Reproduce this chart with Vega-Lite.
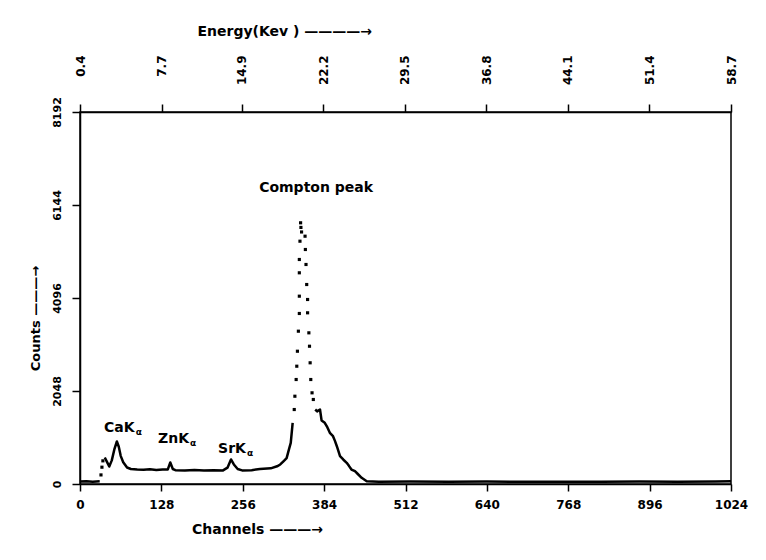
{
  "$schema": "https://vega.github.io/schema/vega-lite/v6.json",
  "width": 651,
  "height": 372,
  "autosize": {"type": "none"},
  "padding": {"left": 80, "top": 112, "right": 35, "bottom": 76},
  "background": "white",
  "config": {
    "view": {"stroke": "black", "strokeWidth": 1.5},
    "font": "DejaVu Sans",
    "axis": {
      "grid": false,
      "domainColor": "black",
      "domainWidth": 1.5,
      "tickColor": "black",
      "tickWidth": 1.5,
      "labelColor": "black",
      "titleColor": "black",
      "labelFont": "DejaVu Sans",
      "titleFont": "DejaVu Sans",
      "labelFontWeight": "bold",
      "titleFontWeight": "bold",
      "labelOverlap": false,
      "labelFlush": false,
      "labelBound": false
    }
  },
  "datasets": {
    "energy_ticks": [
      {"energy": 0.4}, {"energy": 7.7}, {"energy": 14.9}, {"energy": 22.2}, {"energy": 29.5},
      {"energy": 36.8}, {"energy": 44.1}, {"energy": 51.4}, {"energy": 58.7}
    ],
    "spectrum": [
      {"channel": 0, "counts": 55, "part": "base"},
      {"channel": 10, "counts": 60, "part": "base"},
      {"channel": 20, "counts": 50, "part": "base"},
      {"channel": 31, "counts": 58, "part": "base"},
      {"channel": 33, "counts": 200, "part": "dots"},
      {"channel": 34.5, "counts": 370, "part": "dots"},
      {"channel": 36, "counts": 510, "part": "dots"},
      {"channel": 39, "counts": 583, "part": "left"},
      {"channel": 43, "counts": 470, "part": "left"},
      {"channel": 46, "counts": 385, "part": "left"},
      {"channel": 50, "counts": 520, "part": "left"},
      {"channel": 54, "counts": 760, "part": "left"},
      {"channel": 58, "counts": 936, "part": "left"},
      {"channel": 61, "counts": 820, "part": "left"},
      {"channel": 64, "counts": 620, "part": "left"},
      {"channel": 68, "counts": 480, "part": "left"},
      {"channel": 74, "counts": 363, "part": "left"},
      {"channel": 80, "counts": 330, "part": "left"},
      {"channel": 90, "counts": 320, "part": "left"},
      {"channel": 100, "counts": 315, "part": "left"},
      {"channel": 110, "counts": 325, "part": "left"},
      {"channel": 120, "counts": 310, "part": "left"},
      {"channel": 130, "counts": 320, "part": "left"},
      {"channel": 138, "counts": 318, "part": "left"},
      {"channel": 142, "counts": 473, "part": "left"},
      {"channel": 146, "counts": 330, "part": "left"},
      {"channel": 150, "counts": 305, "part": "left"},
      {"channel": 165, "counts": 300, "part": "left"},
      {"channel": 180, "counts": 310, "part": "left"},
      {"channel": 195, "counts": 300, "part": "left"},
      {"channel": 210, "counts": 305, "part": "left"},
      {"channel": 225, "counts": 300, "part": "left"},
      {"channel": 232, "counts": 360, "part": "left"},
      {"channel": 237.5, "counts": 540, "part": "left"},
      {"channel": 242, "counts": 430, "part": "left"},
      {"channel": 248, "counts": 330, "part": "left"},
      {"channel": 255, "counts": 300, "part": "left"},
      {"channel": 270, "counts": 305, "part": "left"},
      {"channel": 283, "counts": 330, "part": "left"},
      {"channel": 300, "counts": 345, "part": "left"},
      {"channel": 310, "counts": 390, "part": "left"},
      {"channel": 315, "counts": 430, "part": "left"},
      {"channel": 320, "counts": 500, "part": "left"},
      {"channel": 325, "counts": 570, "part": "left"},
      {"channel": 329, "counts": 780, "part": "left"},
      {"channel": 331.5, "counts": 907, "part": "left"},
      {"channel": 334.5, "counts": 1348, "part": "left"},
      {"channel": 337, "counts": 1640, "part": "dots"},
      {"channel": 338, "counts": 1933, "part": "dots"},
      {"channel": 340, "counts": 2301, "part": "dots"},
      {"channel": 341, "counts": 2594, "part": "dots"},
      {"channel": 342, "counts": 2924, "part": "dots"},
      {"channel": 343.5, "counts": 3365, "part": "dots"},
      {"channel": 345, "counts": 3755, "part": "dots"},
      {"channel": 345, "counts": 4136, "part": "dots"},
      {"channel": 345, "counts": 4651, "part": "dots"},
      {"channel": 345, "counts": 4944, "part": "dots"},
      {"channel": 346, "counts": 5347, "part": "dots"},
      {"channel": 347, "counts": 5752, "part": "dots"},
      {"channel": 347.5, "counts": 5650, "part": "dots"},
      {"channel": 348.5, "counts": 5550, "part": "dots"},
      {"channel": 354, "counts": 5457, "part": "dots"},
      {"channel": 354.5, "counts": 5164, "part": "dots"},
      {"channel": 355.5, "counts": 4834, "part": "dots"},
      {"channel": 356.6, "counts": 4393, "part": "dots"},
      {"channel": 358, "counts": 4063, "part": "dots"},
      {"channel": 358, "counts": 3770, "part": "dots"},
      {"channel": 360, "counts": 3329, "part": "dots"},
      {"channel": 361, "counts": 3034, "part": "dots"},
      {"channel": 362, "counts": 2669, "part": "dots"},
      {"channel": 363, "counts": 2301, "part": "dots"},
      {"channel": 365, "counts": 2008, "part": "dots"},
      {"channel": 367, "counts": 1861, "part": "dots"},
      {"channel": 370, "counts": 1640, "part": "right"},
      {"channel": 373, "counts": 1600, "part": "right"},
      {"channel": 377.5, "counts": 1640, "part": "right"},
      {"channel": 380, "counts": 1400, "part": "right"},
      {"channel": 385, "counts": 1348, "part": "right"},
      {"channel": 389, "counts": 1250, "part": "right"},
      {"channel": 393, "counts": 1127, "part": "right"},
      {"channel": 398, "counts": 1053, "part": "right"},
      {"channel": 401, "counts": 950, "part": "right"},
      {"channel": 404, "counts": 832, "part": "right"},
      {"channel": 409, "counts": 612, "part": "right"},
      {"channel": 414, "counts": 540, "part": "right"},
      {"channel": 419.5, "counts": 467, "part": "right"},
      {"channel": 423, "counts": 400, "part": "right"},
      {"channel": 427, "counts": 319, "part": "right"},
      {"channel": 432.5, "counts": 282, "part": "right"},
      {"channel": 437, "counts": 220, "part": "right"},
      {"channel": 443, "counts": 137, "part": "right"},
      {"channel": 451, "counts": 62, "part": "right"},
      {"channel": 470, "counts": 50, "part": "right"},
      {"channel": 520, "counts": 55, "part": "right"},
      {"channel": 580, "counts": 48, "part": "right"},
      {"channel": 640, "counts": 55, "part": "right"},
      {"channel": 700, "counts": 50, "part": "right"},
      {"channel": 760, "counts": 52, "part": "right"},
      {"channel": 820, "counts": 48, "part": "right"},
      {"channel": 880, "counts": 55, "part": "right"},
      {"channel": 940, "counts": 50, "part": "right"},
      {"channel": 1000, "counts": 55, "part": "right"},
      {"channel": 1024, "counts": 58, "part": "right"}
    ],
    "labels": [
      {"channel": 86, "counts": 1244, "label": "CaK", "sub": "α"},
      {"channel": 171.5, "counts": 980, "label": "ZnK", "sub": "α"},
      {"channel": 261, "counts": 760, "label": "SrK", "sub": "α"},
      {"channel": 461, "counts": 6529, "label": "Compton peak", "sub": ""}
    ]
  },
  "layer": [
    {
      "data": {"name": "energy_ticks"},
      "mark": {"type": "rule", "opacity": 0},
      "encoding": {
        "x": {
          "field": "energy",
          "type": "quantitative",
          "scale": {"domain": [0.4, 58.7], "nice": false, "zero": false},
          "axis": {
            "orient": "top",
            "values": [0.4, 7.7, 14.9, 22.2, 29.5, 36.8, 44.1, 51.4, 58.7],
            "format": ".1f",
            "labelAngle": -90,
            "labelAlign": "right",
            "labelBaseline": "middle",
            "labelFontSize": 12,
            "tickSize": 8,
            "labelPadding": 49,
            "title": "Energy(Kev ) ————→",
            "titleFontSize": 14,
            "titleAlign": "left",
            "titleBaseline": "middle",
            "titleX": 117,
            "titleY": -81
          }
        }
      }
    },
    {
      "layer": [
        {
          "data": {"name": "spectrum"},
          "transform": [{"filter": "datum.part != 'dots'"}],
          "mark": {"type": "line", "color": "black", "strokeWidth": 2.5, "strokeJoin": "round"},
          "encoding": {
            "x": {
              "field": "channel",
              "type": "quantitative",
              "scale": {"domain": [0, 1024], "nice": false, "zero": false},
              "axis": {
                "orient": "bottom",
                "values": [0, 128, 256, 384, 512, 640, 768, 896, 1024],
                "format": "d",
                "labelFontSize": 12,
                "tickSize": 7,
                "labelPadding": 8,
                "title": "Channels ———→",
                "titleFontSize": 14,
                "titleAlign": "center",
                "titleBaseline": "middle",
                "titleX": 177,
                "titleY": 45
              }
            },
            "y": {
              "field": "counts",
              "type": "quantitative",
              "scale": {"domain": [0, 8192], "nice": false},
              "axis": {
                "values": [0, 2048, 4096, 6144, 8192],
                "format": "d",
                "labelAngle": -90,
                "labelAlign": "center",
                "labelBaseline": "bottom",
                "labelFontSize": 11,
                "tickSize": 8,
                "labelPadding": 10,
                "title": "Counts ———→",
                "titleFontSize": 13,
                "titleAngle": -90,
                "titleAlign": "center",
                "titleBaseline": "middle",
                "titleX": -45,
                "titleY": 206
              }
            },
            "detail": {"field": "part"}
          }
        },
        {
          "data": {"name": "spectrum"},
          "transform": [{"filter": "datum.part == 'dots'"}],
          "mark": {"type": "point", "shape": "square", "filled": true, "color": "black", "size": 10, "opacity": 1},
          "encoding": {
            "x": {"field": "channel", "type": "quantitative"},
            "y": {"field": "counts", "type": "quantitative"}
          }
        },
        {
          "data": {"name": "labels"},
          "mark": {"type": "text", "align": "right", "baseline": "middle", "fontSize": 14, "fontWeight": "bold", "color": "black"},
          "encoding": {
            "x": {"field": "channel", "type": "quantitative"},
            "y": {"field": "counts", "type": "quantitative"},
            "text": {"field": "label"}
          }
        },
        {
          "data": {"name": "labels"},
          "mark": {"type": "text", "align": "left", "baseline": "middle", "fontSize": 9, "fontWeight": "bold", "dx": 1, "dy": 4, "color": "black"},
          "encoding": {
            "x": {"field": "channel", "type": "quantitative"},
            "y": {"field": "counts", "type": "quantitative"},
            "text": {"field": "sub"}
          }
        }
      ]
    }
  ],
  "resolve": {"scale": {"x": "independent"}}
}
